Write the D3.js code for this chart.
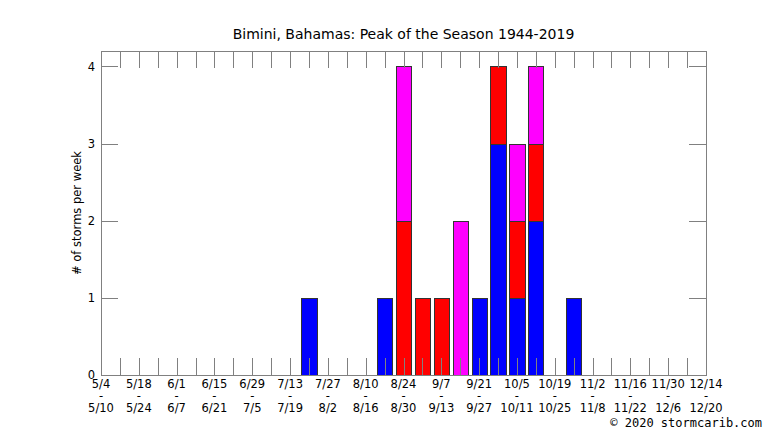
<!DOCTYPE html>
<html>
<head>
<meta charset="utf-8">
<script src="https://cdn.jsdelivr.net/npm/d3@7"></script>
<style>
    body { margin: 0; background: #fff; }
    text { font-family: "DejaVu Sans", sans-serif; fill: #000; }
</style>
</head>
<body>
<div id="chart"></div>
<script>
/*
weekly storm counts, Bimini, Bahamas
 */

// week index 0 = 5/4 ... 32 = 12/14
var labelStart = ["5/4", "5/18", "6/1", "6/15", "6/29", "7/13", "7/27", "8/10", "8/24",
    "9/7", "9/21", "10/5", "10/19", "11/2", "11/16", "11/30", "12/14"];
var labelEnd = ["5/10", "5/24", "6/7", "6/21", "7/5", "7/19", "8/2", "8/16", "8/30",
    "9/13", "9/27", "10/11", "10/25", "11/8", "11/22", "12/6", "12/20"];

// stacked series, one value per week (33 weeks)
var blueCounts = [0, 0, 0, 0, 0, 0, 0, 0, 0, 0, 0, 1, 0, 0, 0, 1, 0,
    0, 0, 0, 1, 3, 1, 2, 0, 1, 0, 0, 0, 0, 0, 0, 0];
var redCounts = [0, 0, 0, 0, 0, 0, 0, 0, 0, 0, 0, 0, 0, 0, 0, 0, 2,
    1, 1, 0, 0, 1, 1, 1, 0, 0, 0, 0, 0, 0, 0, 0, 0];
var magentaCounts = [0, 0, 0, 0, 0, 0, 0, 0, 0, 0, 0, 0, 0, 0, 0, 0, 2,
    0, 0, 2, 0, 0, 1, 1, 0, 0, 0, 0, 0, 0, 0, 0, 0];
var yTicks = [0, 1, 2, 3, 4];

function drawChart() {
    var width = 766;
    var height = 431;

    //plot area:
    var pLeft = 101, pRight = 706, pTop = 51, pBottom = 375;
    var tickLen = 17;
    var axisColor = "#808080";
    var labelSize = "11.5px";

    var svg = d3.select("#chart")
        .append("svg")
        .attr("width", width)
        .attr("height", height);

    //scales
    var xScale = d3.scaleLinear().domain([0, blueCounts.length - 1]).range([pLeft, pRight]);
    var yScale = d3.scaleLinear().domain([0, 4.2]).range([pBottom, pTop]);

    //stack the series
    var rows = blueCounts.map(function (d, i) {
        return {week: i, blue: blueCounts[i], red: redCounts[i], magenta: magentaCounts[i]};
    });
    var keys = ["blue", "red", "magenta"];
    var colors = {blue: "#0000ff", red: "#ff0000", magenta: "#ff00ff"};
    var stacked = d3.stack().keys(keys)(rows);

    //bars
    var barHalf = 0.4;
    svg.append("g").selectAll("g")
        .data(stacked)
        .enter().append("g")
        .attr("fill", function (d) { return colors[d.key]; })
        .selectAll("rect")
        .data(function (d) { return d.filter(function (p) { return p[1] > p[0]; }); })
        .enter().append("rect")
        .attr("x", function (d) { return Math.round(xScale(d.data.week - barHalf)) + 0.5; })
        .attr("width", function (d) {
            return Math.round(xScale(d.data.week + barHalf)) - Math.round(xScale(d.data.week - barHalf));
        })
        .attr("y", function (d) { return Math.round(yScale(d[1])) + 0.5; })
        .attr("height", function (d) { return Math.round(yScale(d[0])) - Math.round(yScale(d[1])); })
        .attr("stroke", "#333")
        .attr("stroke-width", 1);

    //week ticks, bottom and top
    var weeks = d3.range(blueCounts.length);
    var ticks = svg.append("g").attr("stroke", axisColor).attr("stroke-width", 1);
    weeks.forEach(function (w) {
        var x = Math.round(xScale(w)) + 0.5;
        ticks.append("line").attr("x1", x).attr("x2", x).attr("y1", pBottom).attr("y2", pBottom - tickLen);
        ticks.append("line").attr("x1", x).attr("x2", x).attr("y1", pTop).attr("y2", pTop + tickLen);
    });

    //y ticks left and right
    yTicks.forEach(function (v) {
        var y = Math.round(yScale(v)) + 0.5;
        ticks.append("line").attr("x1", pLeft).attr("x2", pLeft + tickLen).attr("y1", y).attr("y2", y);
        ticks.append("line").attr("x1", pRight).attr("x2", pRight - tickLen).attr("y1", y).attr("y2", y);
    });

    //frame
    svg.append("rect")
        .attr("x", pLeft + 0.5)
        .attr("y", pTop + 0.5)
        .attr("width", pRight - pLeft)
        .attr("height", pBottom - pTop)
        .attr("fill", "none")
        .attr("stroke", axisColor);

    //y labels
    svg.append("g").selectAll("text")
        .data(yTicks)
        .enter().append("text")
        .attr("x", pLeft - 6)
        .attr("y", function (d) { return yScale(d); })
        .attr("dy", "0.36em")
        .attr("text-anchor", "end")
        .attr("font-size", labelSize)
        .text(function (d) { return d; });

    //x labels, every two weeks, three lines in one text
    var xl = svg.append("g").attr("font-size", labelSize).attr("text-anchor", "middle");
    labelStart.forEach(function (lab, k) {
        var x = xScale(k * 2);
        var t = xl.append("text").attr("x", x).attr("y", 388);
        t.append("tspan").attr("x", x).text(lab);
        t.append("tspan").attr("x", x).attr("dy", 12).text("-");
        t.append("tspan").attr("x", x).attr("dy", 12).text(labelEnd[k]);
    });

    //title
    svg.append("text")
        .attr("x", (pLeft + pRight) / 2)
        .attr("y", 39)
        .attr("text-anchor", "middle")
        .attr("font-size", "14px")
        .text("Bimini, Bahamas: Peak of the Season 1944-2019");

    //y axis name
    svg.append("text")
        .attr("transform", "translate(81," + ((pTop + pBottom) / 2) + ") rotate(-90)")
        .attr("text-anchor", "middle")
        .attr("font-size", labelSize)
        .text("# of storms per week");

    //copyright
    svg.append("text")
        .attr("x", 762)
        .attr("y", 427)
        .attr("text-anchor", "end")
        .attr("font-size", "12px")
        .style("font-family", "'DejaVu Sans Mono', monospace")
        .text("\u00a9 2020 stormcarib.com");
}

drawChart();
</script>
</body>
</html>
